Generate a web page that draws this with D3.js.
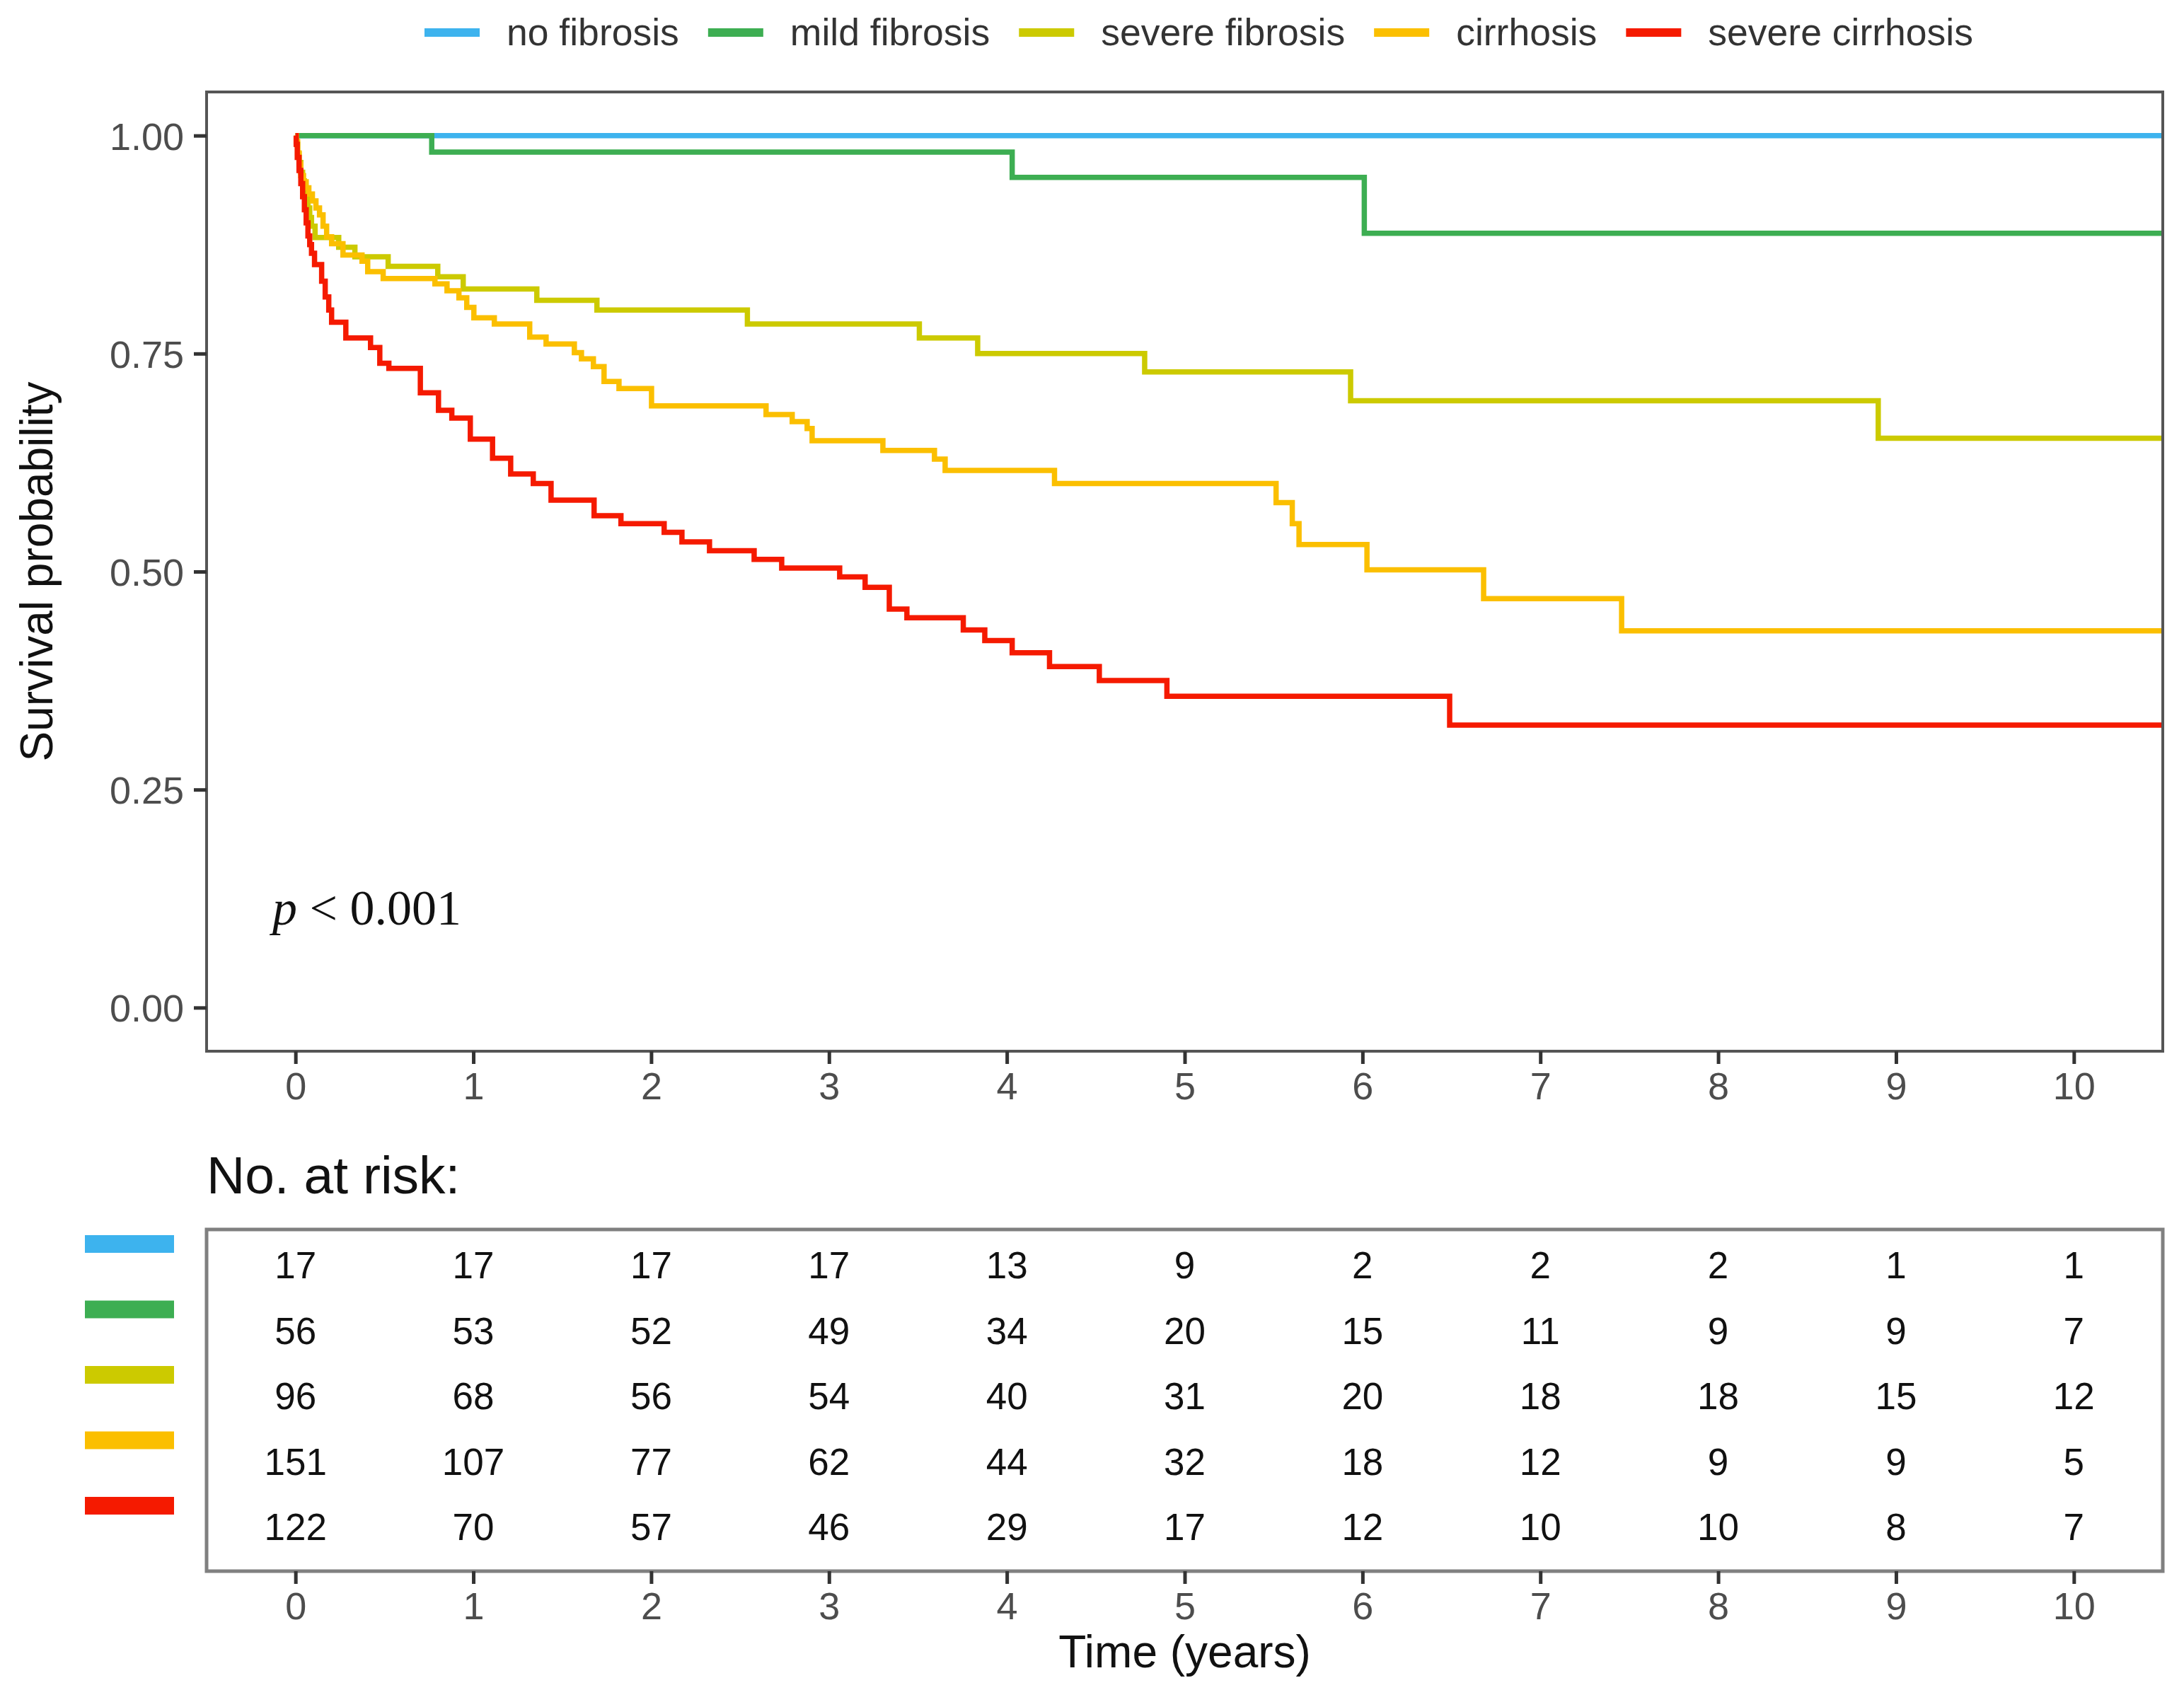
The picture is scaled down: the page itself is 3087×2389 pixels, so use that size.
<!DOCTYPE html>
<html lang="en">
    <head>
        <meta charset="UTF-8" />
        <title>Survival by fibrosis stage</title>
        <script src="https://cdn.jsdelivr.net/npm/d3@7/dist/d3.min.js"></script>
        <style>
            text {
                font-family: 'Liberation Sans', Arial, sans-serif;
            }
        </style>
    </head>
    <body style="padding: 0; margin: 0; background-color: #fff;">
        <svg width="3087" height="2389"></svg>
        <script>
            var groups = ['no fibrosis', 'mild fibrosis', 'severe fibrosis', 'cirrhosis', 'severe cirrhosis'];
            var colors = ['#3DB3EE', '#3DAE52', '#CCCA00', '#FBBF00', '#F51A00'];

            // Kaplan-Meier steps (time in years, survival)
            var noFibTime = [0];
            var noFibSurv = [1];
            var mildTime = [0, 0.766, 4.03, 6.01];
            var mildSurv = [1, 0.981, 0.952, 0.888];
            var sevFibTime = [0, 0.006, 0.012, 0.02, 0.03, 0.04, 0.05, 0.06, 0.07, 0.08, 0.09, 0.11, 0.243,
                0.334, 0.521, 0.8, 0.943, 1.357, 1.695, 2.541, 3.508, 3.836, 4.775, 5.933, 8.9];
            var sevFibSurv = [1, 0.99, 0.979, 0.969, 0.958, 0.948, 0.938, 0.927, 0.917, 0.906, 0.896, 0.883, 0.872,
                0.861, 0.85, 0.838, 0.824, 0.811, 0.8, 0.784, 0.768, 0.75, 0.729, 0.696, 0.653];
            var cirrTime = [0, 0.004, 0.012, 0.02, 0.03, 0.045, 0.06, 0.075, 0.095, 0.115, 0.135, 0.155, 0.175,
                0.203, 0.267, 0.374, 0.406, 0.493, 0.784, 0.852, 0.919, 0.963, 1.003, 1.118, 1.317, 1.409, 1.568,
                1.608, 1.675, 1.735, 1.819, 2.002, 2.646, 2.793, 2.877, 2.905, 3.303, 3.593, 3.653, 4.268, 5.514,
                5.605, 5.643, 6.025, 6.681, 7.457];
            var cirrSurv = [1, 0.993, 0.98, 0.967, 0.954, 0.947, 0.94, 0.933, 0.925, 0.917, 0.909, 0.896, 0.884,
                0.876, 0.863, 0.856, 0.844, 0.836, 0.83, 0.822, 0.814, 0.803, 0.791, 0.784, 0.769, 0.761, 0.751,
                0.744, 0.735, 0.718, 0.71, 0.69, 0.68, 0.672, 0.664, 0.65, 0.639, 0.629, 0.616, 0.601, 0.579,
                0.555, 0.531, 0.502, 0.469, 0.432];
            var sevCirrTime = [0, 0.004, 0.01, 0.02, 0.03, 0.04, 0.05, 0.06, 0.07, 0.08, 0.09, 0.107, 0.147,
                0.167, 0.187, 0.203, 0.283, 0.422, 0.474, 0.525, 0.702, 0.804, 0.879, 0.983, 1.108, 1.21, 1.337,
                1.437, 1.679, 1.83, 2.073, 2.173, 2.328, 2.579, 2.734, 3.06, 3.203, 3.339, 3.438, 3.755, 3.876,
                4.03, 4.24, 4.52, 4.9, 6.49];
            var sevCirrSurv = [1, 0.99, 0.975, 0.96, 0.945, 0.93, 0.915, 0.9, 0.885, 0.875, 0.865, 0.852, 0.833,
                0.815, 0.8, 0.786, 0.768, 0.757, 0.739, 0.733, 0.705, 0.685, 0.676, 0.652, 0.63, 0.612, 0.601,
                0.582, 0.564, 0.555, 0.545, 0.534, 0.524, 0.514, 0.504, 0.494, 0.482, 0.457, 0.447, 0.433, 0.421,
                0.407, 0.391, 0.375, 0.357, 0.324];
            var followUpEnd = 10.5;

            // number at risk table
            var riskTimes = [0, 1, 2, 3, 4, 5, 6, 7, 8, 9, 10];
            var riskNoFib = [17, 17, 17, 17, 13, 9, 2, 2, 2, 1, 1];
            var riskMild = [56, 53, 52, 49, 34, 20, 15, 11, 9, 9, 7];
            var riskSevFib = [96, 68, 56, 54, 40, 31, 20, 18, 18, 15, 12];
            var riskCirr = [151, 107, 77, 62, 44, 32, 18, 12, 9, 9, 5];
            var riskSevCirr = [122, 70, 57, 46, 29, 17, 12, 10, 10, 8, 7];

            var yTicks = [0, 0.25, 0.5, 0.75, 1];
            var pText = '< 0.001';

            var curves = [
                [noFibTime, noFibSurv],
                [mildTime, mildSurv],
                [sevFibTime, sevFibSurv],
                [cirrTime, cirrSurv],
                [sevCirrTime, sevCirrSurv],
            ].map(function(c) {
                var pts = c[0].map(function(t, i) {
                    return [t, c[1][i]];
                });
                pts.push([followUpEnd, c[1][c[1].length - 1]]);
                return pts;
            });
            var risk = [riskNoFib, riskMild, riskSevFib, riskCirr, riskSevCirr];

            var svg = d3.select('svg');
            var pLeft = 292,
                pRight = 3057,
                pTop = 130,
                pBottom = 1486;

            var x = d3.scaleLinear().domain([-0.5, 10.5]).range([pLeft, pRight]);
            var y = d3.scaleLinear().domain([-0.05, 1.05]).range([pBottom, pTop]);

            // legend
            var lg = svg.append('g');
            var lx = 600;
            groups.forEach(function(g, i) {
                lg.append('line')
                    .attr('x1', lx)
                    .attr('x2', lx + 78)
                    .attr('y1', 46)
                    .attr('y2', 46)
                    .attr('stroke', colors[i])
                    .attr('stroke-width', 12);
                var t = lg.append('text')
                    .attr('x', lx + 116)
                    .attr('y', 64)
                    .attr('font-size', 53.5)
                    .attr('fill', '#333')
                    .text(g);
                lx += 116 + t.node().getComputedTextLength() + 41;
            });

            // curves
            svg.append('clipPath')
                .attr('id', 'clip')
                .append('rect')
                .attr('x', pLeft)
                .attr('y', pTop)
                .attr('width', pRight - pLeft)
                .attr('height', pBottom - pTop);

            var line = d3.line()
                .x(function(d) { return x(d[0]); })
                .y(function(d) { return y(d[1]); })
                .curve(d3.curveStepAfter);

            svg.append('g')
                .attr('clip-path', 'url(#clip)')
                .selectAll('path')
                .data(curves)
                .enter()
                .append('path')
                .attr('d', line)
                .attr('fill', 'none')
                .attr('stroke', function(d, i) { return colors[i]; })
                .attr('stroke-width', 7.5);

            svg.append('rect')
                .attr('x', pLeft)
                .attr('y', pTop)
                .attr('width', pRight - pLeft)
                .attr('height', pBottom - pTop)
                .attr('fill', 'none')
                .attr('stroke', '#555')
                .attr('stroke-width', 4);

            // axes
            function styleAxis(g) {
                g.select('.domain').remove();
                g.selectAll('.tick line').attr('stroke', '#333').attr('stroke-width', 5);
                g.selectAll('.tick text')
                    .attr('fill', '#4d4d4d')
                    .attr('font-size', 54)
                    .style('font-family', "'Liberation Sans', Arial, sans-serif");
            }

            svg.append('g')
                .attr('transform', 'translate(' + pLeft + ',0)')
                .call(d3.axisLeft(y).tickValues(yTicks).tickFormat(d3.format('.2f')).tickSize(18).tickPadding(14))
                .call(styleAxis)
                .selectAll('.tick text')
                .attr('dy', '0.36em');

            svg.append('g')
                .attr('transform', 'translate(0,' + pBottom + ')')
                .call(d3.axisBottom(x).tickValues(riskTimes).tickFormat(d3.format('d')).tickSize(18).tickPadding(12))
                .call(styleAxis);

            svg.append('text')
                .attr('transform', 'translate(74,' + (pTop + pBottom) / 2 + ') rotate(-90)')
                .attr('text-anchor', 'middle')
                .attr('font-size', 64)
                .attr('fill', '#111')
                .text('Survival probability');

            // p value
            var pv = svg.append('text')
                .attr('x', x(-0.13))
                .attr('y', y(0.095))
                .attr('font-size', 70)
                .attr('fill', '#111')
                .style('font-family', "'Liberation Serif', 'Times New Roman', serif");
            pv.append('tspan').attr('font-style', 'italic').text('p');
            pv.append('tspan').text(' ' + pText);

            // risk table
            var rTop = 1738,
                rBottom = 2221;
            svg.append('text')
                .attr('x', pLeft)
                .attr('y', 1687)
                .attr('font-size', 75)
                .attr('fill', '#111')
                .text('No. at risk:');

            var rowY = d3.scalePoint().domain(d3.range(groups.length)).range([1788, 2158]);

            svg.append('rect')
                .attr('x', pLeft)
                .attr('y', rTop)
                .attr('width', pRight - pLeft)
                .attr('height', rBottom - rTop)
                .attr('fill', 'none')
                .attr('stroke', '#808080')
                .attr('stroke-width', 5);

            risk.forEach(function(row, i) {
                svg.append('rect')
                    .attr('x', 120)
                    .attr('y', rowY(i) - 42)
                    .attr('width', 126)
                    .attr('height', 25)
                    .attr('fill', colors[i]);
                svg.append('g')
                    .selectAll('text')
                    .data(row)
                    .enter()
                    .append('text')
                    .attr('x', function(d, j) { return x(riskTimes[j]); })
                    .attr('y', rowY(i))
                    .attr('dy', '0.36em')
                    .attr('text-anchor', 'middle')
                    .attr('font-size', 53)
                    .attr('fill', '#111')
                    .text(function(d) { return d; });
            });

            svg.append('g')
                .attr('transform', 'translate(0,' + rBottom + ')')
                .call(d3.axisBottom(x).tickValues(riskTimes).tickFormat(d3.format('d')).tickSize(18).tickPadding(12))
                .call(styleAxis);

            svg.append('text')
                .attr('x', (pLeft + pRight) / 2)
                .attr('y', 2357)
                .attr('text-anchor', 'middle')
                .attr('font-size', 64)
                .attr('fill', '#111')
                .text('Time (years)');
        </script>
    </body>
</html>
